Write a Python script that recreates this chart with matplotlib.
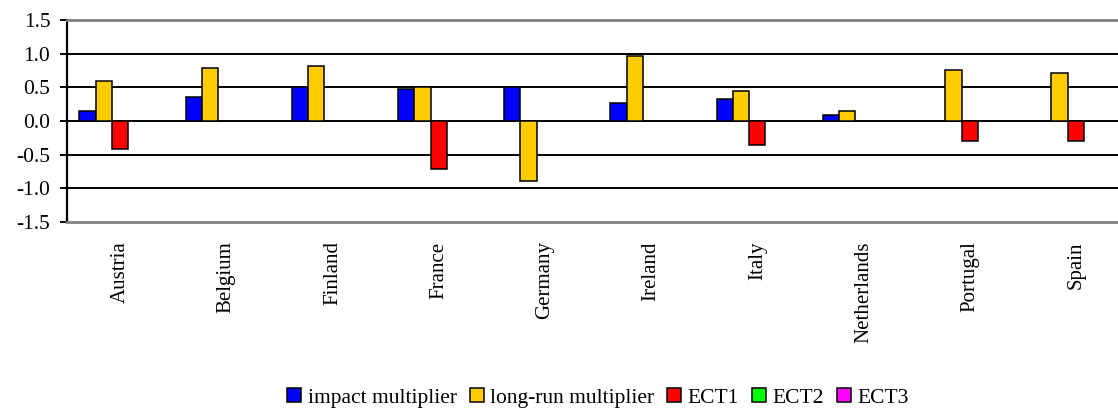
import numpy as np
import matplotlib
matplotlib.use("Agg")
import matplotlib.pyplot as plt

countries = ["Austria", "Belgium", "Finland", "France", "Germany",
             "Ireland", "Italy", "Netherlands", "Portugal", "Spain"]
nan = np.nan
impact = [0.15, 0.35, 0.50, 0.47, 0.50, 0.26, 0.33, 0.09, nan, nan]
long_run = [0.59, 0.79, 0.82, 0.50, -0.89, 0.97, 0.44, 0.15, 0.76, 0.71]
ect1 = [-0.42, nan, nan, -0.71, nan, nan, -0.36, nan, -0.30, -0.30]
ect2 = [nan] * 10
ect3 = [nan] * 10

series = [
    ("impact multiplier", impact, "#0000FF"),
    ("long-run multiplier", long_run, "#FFCC00"),
    ("ECT1", ect1, "#FF0000"),
    ("ECT2", ect2, "#00FF00"),
    ("ECT3", ect3, "#FF00FF"),
]

plt.rcParams['font.family'] = ['Liberation Serif', 'DejaVu Serif']

fig = plt.figure(figsize=(11.18, 4.08), dpi=100)
ax = fig.add_axes([67 / 1118, 186 / 408, 1062 / 1118, 202 / 408])

x = np.arange(len(countries))
w = 0.1535
handles = []
for i, (name, vals, col) in enumerate(series):
    b = ax.bar(x - 2 * w + i * w, vals, width=w, color=col,
               edgecolor="black", linewidth=1.1, label=name, zorder=3)
    handles.append(b)

ax.set_xlim(-0.5, len(countries) - 0.5)
ax.set_ylim(-1.5, 1.5)
yt = np.arange(-1.5, 1.51, 0.5)
ax.set_yticks(yt)
ax.set_yticklabels(["%.1f" % v for v in yt], fontsize=15.5)

# black inner gridlines, grey frame top/bottom
for v in [-1.0, -0.5, 0.0, 0.5, 1.0]:
    ax.axhline(v, color="black", linewidth=1.4, zorder=1)
ax.spines["top"].set_color("#808080")
ax.spines["bottom"].set_color("#808080")
ax.spines["top"].set_linewidth(2)
ax.spines["bottom"].set_linewidth(2)
ax.spines["right"].set_visible(False)
ax.spines["left"].set_linewidth(1.6)
ax.tick_params(axis="y", length=5, width=1.4, pad=7)
ax.tick_params(axis="x", length=0, pad=14)
ax.set_xticks(x)
ax.set_xticklabels(countries, rotation=90, fontsize=15, va="top")

fig.legend(handles=handles, loc="center", bbox_to_anchor=(598 / 1118, 1 - 398 / 408),
           ncol=5, frameon=False, fontsize=15.5, handlelength=0.65, handleheight=0.65,
           handletextpad=0.3, columnspacing=0.6, borderaxespad=0)

fig.savefig("out.png", dpi=100)
